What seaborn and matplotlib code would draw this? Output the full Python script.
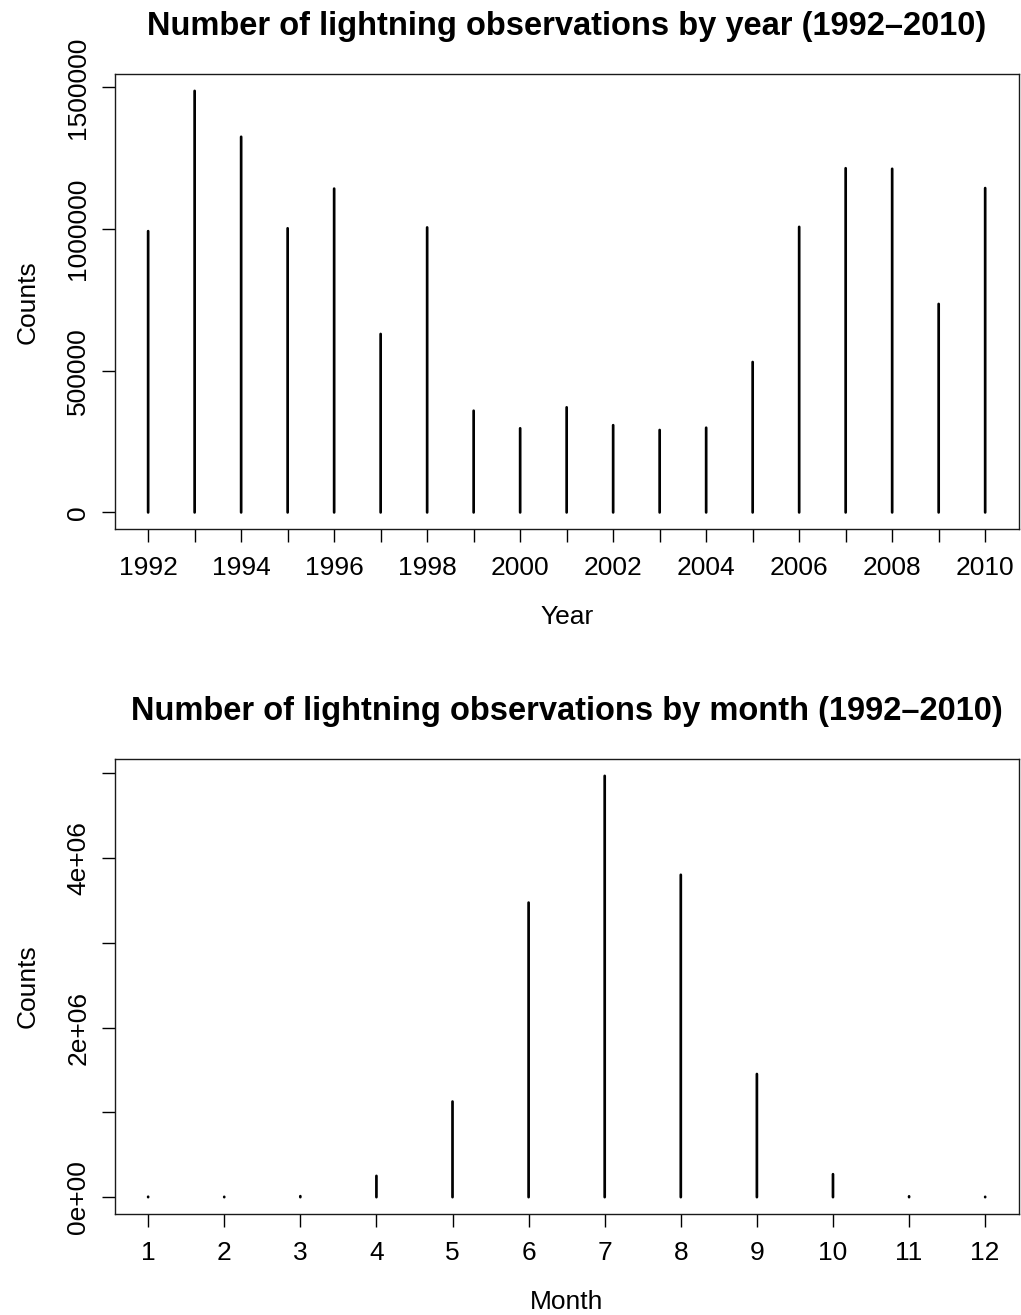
import matplotlib
matplotlib.use("Agg")
import matplotlib.pyplot as plt
from matplotlib.ticker import FixedLocator, FixedFormatter
import pandas as pd
import seaborn as sns

# Lightning observation totals, 1992-2010
years = list(range(1992, 2011))
year_counts = [993000, 1488000, 1326000, 1003000, 1143000, 630000, 1006000,
               359000, 297000, 371000, 308000, 291000, 299000, 531000,
               1008000, 1215000, 1213000, 736000, 1145000]

months = list(range(1, 13))
month_counts = [5000, 4000, 12000, 251000, 1128000, 3475000, 4970000,
                3803000, 1453000, 271000, 10000, 4000]

year_tick_labels = [str(y) if y % 2 == 0 else "" for y in years]
year_yticks = [0, 500000, 1000000, 1500000]
year_ytick_labels = ["0", "500000", "1000000", "1500000"]

month_tick_labels = [str(m) for m in months]
month_yticks = [0, 1000000, 2000000, 3000000, 4000000, 5000000]
month_ytick_labels = ["0e+00", "", "2e+06", "", "4e+06", ""]

sns.set_theme(style="ticks")
plt.rcParams["font.family"] = ["Liberation Sans", "DejaVu Sans"]
plt.rcParams["axes.edgecolor"] = "#1a1a1a"
plt.rcParams["axes.linewidth"] = 1.0
# keep very short stems (tiny monthly counts) as visible round dots
plt.rcParams["path.simplify"] = False

TICK_FS = 19
TITLE_FS = 23.5
STEM_LW = 1.95


def stem_frame(x, y):
    # each stem runs from zero up to its count
    rows = []
    for xi, yi in zip(x, y):
        rows.append({"x": xi, "y": 0, "stem": xi})
        rows.append({"x": xi, "y": yi, "stem": xi})
    return pd.DataFrame(rows)


def stem_panel(ax, x, y, xlabel, xticklabels, yticks, yticklabels, title):
    df = stem_frame(x, y)
    sns.lineplot(data=df, x="x", y="y", units="stem", estimator=None,
                 color="black", linewidth=STEM_LW, solid_capstyle="round",
                 legend=False, ax=ax)
    for line in ax.lines:
        line.set_snap(False)

    # axis limits padded by 4% of the data range
    xlo, xhi = min(x), max(x)
    xp = 0.04 * (xhi - xlo)
    ax.set_xlim(xlo - xp, xhi + xp)
    ylo, yhi = 0, max(y)
    yp = 0.04 * (yhi - ylo)
    ax.set_ylim(ylo - yp, yhi + yp)

    ax.xaxis.set_major_locator(FixedLocator(x))
    ax.xaxis.set_major_formatter(FixedFormatter(xticklabels))
    ax.yaxis.set_major_locator(FixedLocator(yticks))
    ax.yaxis.set_major_formatter(FixedFormatter(yticklabels))

    ax.tick_params(axis="both", direction="out", length=9.5, width=1.0,
                   color="black", labelsize=TICK_FS, labelcolor="black")
    ax.tick_params(axis="x", pad=10)
    ax.tick_params(axis="y", pad=8, labelrotation=90)
    for lab in ax.get_yticklabels():
        lab.set_va("center")

    ax.set_xlabel(xlabel, fontsize=TICK_FS, labelpad=18, color="black")
    ax.set_ylabel("Counts", fontsize=TICK_FS, labelpad=19, color="black")
    ax.set_title(title, fontsize=TITLE_FS, fontweight="bold", pad=28,
                 color="black")
    for s in ax.spines.values():
        s.set_visible(True)


fig = plt.figure(figsize=(10.21, 13.15), dpi=100)
ax1 = fig.add_axes([0.1123, 0.5975, 0.8854, 0.3462])
ax2 = fig.add_axes([0.1123, 0.0768, 0.8854, 0.3460])

stem_panel(ax1, years, year_counts, "Year", year_tick_labels,
           year_yticks, year_ytick_labels,
           "Number of lightning observations by year (1992\u20132010)")
stem_panel(ax2, months, month_counts, "Month", month_tick_labels,
           month_yticks, month_ytick_labels,
           "Number of lightning observations by month (1992\u20132010)")

fig.savefig("out.png", dpi=100, facecolor="white")
